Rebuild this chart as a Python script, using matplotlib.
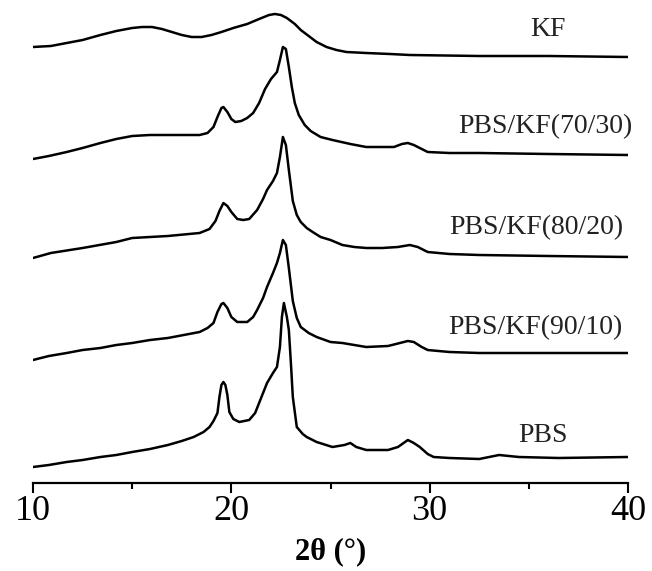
import matplotlib
matplotlib.use("Agg")
import matplotlib.pyplot as plt
from matplotlib.ticker import MultipleLocator
import numpy as np

# ---- data (2theta in degrees, relative intensity in arbitrary units) ----
kf_2theta = [10.0, 10.9, 11.7, 12.5, 13.4, 14.2, 15.0, 15.5, 16.0, 16.5, 17.0, 17.5,
             18.0, 18.5, 19.0, 19.5, 20.1, 20.8, 21.4, 21.9, 22.2, 22.5, 22.8, 23.2,
             23.5, 23.9, 24.3, 24.8, 25.3, 25.8, 26.8, 28.0, 29.0, 32.5, 36.0, 40.0]
kf_int = [10, 11, 14, 17, 22, 26, 29, 30, 30, 28, 25, 22, 20, 20, 22, 25, 29, 33, 38,
          42, 43, 42, 39, 33, 27, 21, 15, 10, 7, 5, 4, 3, 2, 1, 1, 0]

b70_2theta = [10.0, 10.8, 11.7, 12.5, 13.4, 14.2, 15.0, 15.9, 16.8, 17.6, 18.4, 18.8,
              19.1, 19.3, 19.5, 19.6, 19.8, 20.0, 20.2, 20.5, 20.8, 21.1, 21.4, 21.7,
              22.0, 22.3, 22.45, 22.6, 22.75, 22.9, 23.05, 23.2, 23.4, 23.7, 24.0,
              24.5, 25.1, 26.0, 26.8, 27.6, 28.2, 28.6, 28.9, 29.2, 29.6, 29.9, 31.0,
              32.5, 36.0, 40.0]
b70_int = [-4, -1, 3, 7, 12, 16, 19, 20, 20, 20, 20, 22, 28, 38, 47, 48, 43, 36, 33,
           34, 37, 42, 52, 66, 76, 83, 95, 108, 106, 88, 68, 52, 40, 30, 24, 18, 15,
           11, 8, 8, 8, 11, 12, 10, 6, 3, 2, 2, 1, 0]

b80_2theta = [10.0, 10.9, 12.5, 14.2, 15.0, 16.8, 18.4, 18.9, 19.2, 19.4, 19.6, 19.8,
              20.0, 20.3, 20.6, 20.9, 21.3, 21.6, 21.8, 22.1, 22.3, 22.45, 22.6, 22.75,
              22.9, 23.1, 23.3, 23.5, 23.8, 24.1, 24.5, 25.0, 25.6, 26.2, 26.8, 27.6,
              28.4, 29.0, 29.4, 29.9, 31.0, 32.5, 36.0, 40.0]
b80_int = [-1, 4, 9, 15, 19, 21, 24, 28, 36, 46, 54, 51, 45, 38, 37, 38, 47, 58, 67,
           76, 84, 100, 120, 112, 87, 56, 42, 35, 29, 25, 20, 17, 12, 10, 9, 9, 10, 12,
           10, 5, 3, 2, 1, 0]

b90_2theta = [10.0, 10.8, 11.7, 12.5, 13.4, 14.2, 15.0, 15.9, 16.8, 17.6, 18.4, 18.8,
              19.1, 19.3, 19.5, 19.6, 19.8, 20.0, 20.3, 20.8, 21.1, 21.3, 21.6, 21.8,
              22.1, 22.3, 22.45, 22.6, 22.75, 22.9, 23.1, 23.3, 23.5, 23.9, 24.3, 25.0,
              25.6, 26.2, 26.8, 27.9, 28.5, 28.9, 29.2, 29.6, 29.9, 31.0, 32.5, 36.0,
              40.0]
b90_int = [-7, -3, 0, 3, 5, 8, 10, 13, 15, 18, 21, 25, 30, 41, 49, 50, 45, 36, 31, 31,
           36, 43, 55, 66, 80, 90, 100, 113, 108, 85, 52, 35, 26, 20, 16, 11, 10, 8, 6,
           7, 10, 12, 11, 6, 3, 1, 0, 0, 0]

pbs_2theta = [10.0, 10.8, 11.7, 12.5, 13.4, 14.2, 15.0, 15.9, 16.8, 17.5, 18.1, 18.6,
              18.9, 19.1, 19.3, 19.4, 19.5, 19.6, 19.7, 19.8, 19.9, 20.1, 20.4, 20.9,
              21.2, 21.4, 21.6, 21.8, 22.1, 22.3, 22.45, 22.55, 22.65, 22.8, 22.9, 23.0,
              23.1, 23.3, 23.6, 23.8, 24.3, 25.1, 25.7, 26.0, 26.3, 26.8, 27.9, 28.4,
              28.9, 29.2, 29.5, 29.9, 30.2, 31.0, 32.5, 33.5, 34.5, 36.5, 40.0]
pbs_int = [-10, -8, -5, -3, 0, 2, 5, 8, 12, 16, 20, 25, 30, 36, 44, 60, 72, 75, 72, 62,
           45, 38, 35, 37, 44, 54, 64, 74, 84, 90, 110, 140, 154, 140, 127, 95, 60, 30,
           23, 20, 15, 10, 12, 14, 10, 7, 7, 10, 17, 14, 10, 3, 0, -1, -2, 2, 0, -1, 0]

labels = ["KF", "PBS/KF(70/30)", "PBS/KF(80/20)", "PBS/KF(90/10)", "PBS"]
offsets = [426, 328, 226, 130, 26]
xticks = [10, 20, 30, 40]

series = [(kf_2theta, kf_int), (b70_2theta, b70_int), (b80_2theta, b80_int),
          (b90_2theta, b90_int), (pbs_2theta, pbs_int)]

W, H = 652, 571
fig = plt.figure(figsize=(W / 100, H / 100), dpi=100)
ax = fig.add_axes([33 / W, (H - 483) / H, 595 / W, 483 / H])

for (x, y), off in zip(series, offsets):
    ax.plot(x, np.asarray(y) + off, color="black", lw=1.8,
            solid_joinstyle="round", solid_capstyle="round")

ax.set_xlim(10, 40)
ax.set_ylim(0, 483)
for s in ["top", "right", "left"]:
    ax.spines[s].set_visible(False)
ax.spines["bottom"].set_linewidth(1.6)
ax.set_yticks([])
ax.set_xticks(xticks)
ax.xaxis.set_minor_locator(MultipleLocator(5))
ax.tick_params(axis="x", which="major", length=7.5, width=1.5, pad=1.5,
               labelsize=26, direction="out")
ax.tick_params(axis="x", which="minor", length=4, width=1.5, direction="out")
for lab in ax.get_xticklabels():
    lab.set_fontfamily("Liberation Serif")
    lab.set_clip_on(False)

ax.set_xlabel("2θ (°)", fontsize=22, fontweight="bold", family="Liberation Serif",
              labelpad=6)

tf = dict(family="Liberation Serif", fontsize=20, color="#222222", clip_on=False)
ax.text(35.97, 453, labels[0], ha="center", va="center", **tf)
ax.text(40.2, 356, labels[1], ha="right", va="center", **tf)
ax.text(39.75, 255, labels[2], ha="right", va="center", **tf)
ax.text(39.7, 155, labels[3], ha="right", va="center", **tf)
ax.text(35.72, 48, labels[4], ha="center", va="center", **tf)

fig.savefig("out.png", dpi=100)
